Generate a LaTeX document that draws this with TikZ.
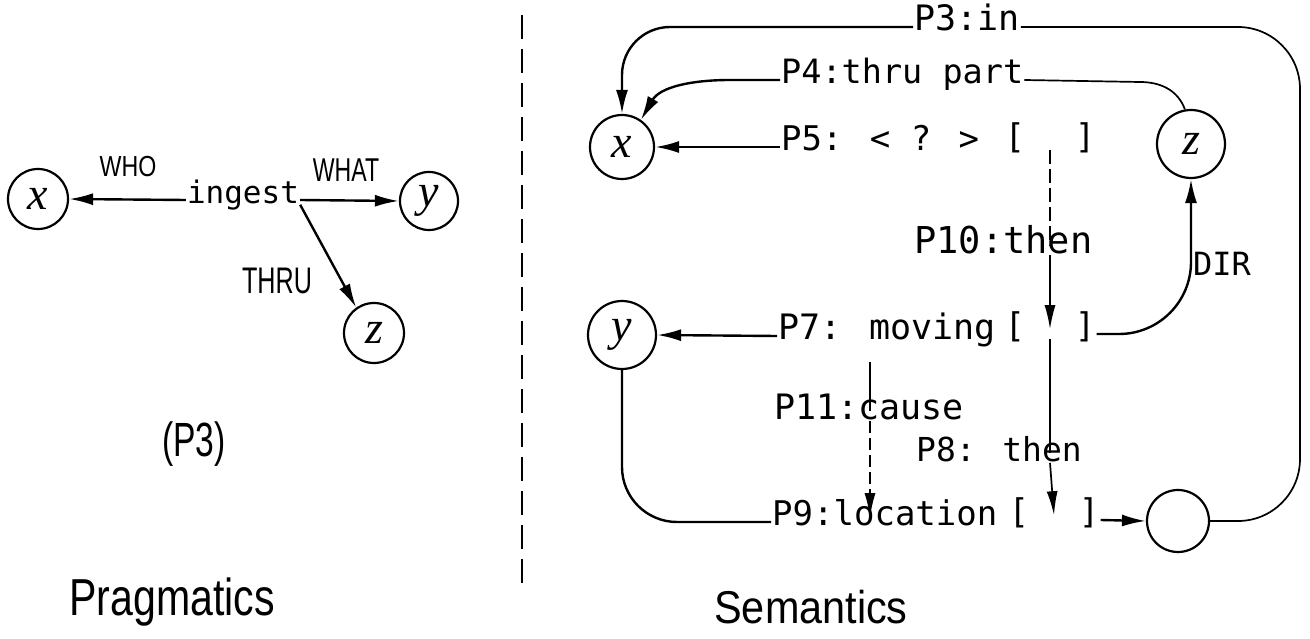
\documentclass[tikz,border=0pt]{standalone}
\usepackage{fontspec}
\setmainfont{Liberation Sans}
\newfontfamily\monof{DejaVu Sans Mono}
\newfontfamily\serifr{Liberation Serif}
\usetikzlibrary{arrows.meta}
\newcommand{\hw}[3]{\fontsize{#1}{#1}\selectfont\scalebox{#2}[1]{#3}}
\begin{document}
\begin{tikzpicture}[x=1pt,y=-1pt,
  circ/.style={circle,draw,line width=2.2pt,minimum size=62pt,inner sep=0pt,font=\serifr\itshape\fontsize{46}{46}\selectfont},
  typ/.style={font=\monof\fontsize{#1}{#1}\selectfont,inner sep=1pt,text height=0.72em,text depth=0pt},
  hand/.style={inner sep=1pt},
  conn/.style={line width=2.4pt},
  thinln/.style={line width=1.7pt},
  arr/.style={line width=2.4pt,-{Latex[length=24pt,width=12pt]}},
  arrS/.style={line width=1.7pt,-{Latex[length=24pt,width=11pt]}},
  brk/.style={line width=1.7pt,dash pattern=on 14pt off 5pt},
]
\useasboundingbox (0,0) rectangle (1310,639);

% divider
\draw[line width=2.4pt,dash pattern=on 24pt off 10pt] (522,15) -- (522,592);

% ---------- Pragmatics ----------
\node[circ,minimum size=60pt] (xL) at (38,199) {x};
\node[typ=31] (ing) at (243,200) {ingest};
\node[circ,minimum size=58pt] (yL) at (429,201) {y};
\node[circ,minimum size=60pt] (zL) at (374,333) {z};
\node[hand] (who) at (128,167) {\hw{29}{0.8}{WHO}};
\node[hand] (what) at (346,170) {\hw{33}{0.7}{WHAT}};
\node[hand] (thru) at (277,281) {\hw{37}{0.68}{THRU}};
\draw[arr] (ing.west) -- (xL.east);
\draw[arr] (ing.east) -- (yL.west);
\draw[arr] (ing.south east) -- (zL.125);
\node[hand] (p3cap) at (194,444) {\hw{48}{0.7}{(P3)}};
\node[hand] (prag) at (172,602) {\hw{52}{0.79}{Pragmatics}};

% ---------- Semantics ----------
\node[circ,minimum size=64pt] (xR) at (622,147) {x};
\node[circ,minimum size=68pt] (zR) at (1191,144) {z};
\node[circ,minimum size=68pt] (yR) at (622,335) {y};
\node[circ,minimum size=62pt] (eR) at (1178,521) {};

\node[typ=35,anchor=west] (p3) at (913,27) {P3:in};
\node[typ=33.5,anchor=west] (p4) at (780,80) {P4:thru part};
\node[typ=34,anchor=west] (p5) at (780,147) {P5: < ? >};
\node[typ=34] (p5b) at (1050,145) {[\hspace{50pt}]};
\node[typ=37,anchor=west] (p10) at (913,250) {P10:then};
\node[typ=35,anchor=west] (p7) at (777,336) {P7: moving};
\node[typ=34] (p7b) at (1050,334) {[\hspace{50pt}]};
\node[typ=32] (dir) at (1222,272) {DIR};
\node[typ=35,anchor=west] (p11) at (773,416) {P11:cause};
\node[typ=33,anchor=west] (p8) at (915,458) {P8: then};
\node[typ=34,anchor=west] (p9) at (771,522) {P9:location};
\node[typ=34] (p9b) at (1054,520) {[\hspace{50pt}]};
\node[hand] (sem) at (811,607) {\hw{46}{0.9}{Semantics}};

\coordinate (rc1) at (1300,27);
\coordinate (rc2) at (1300,521);
\coordinate (p4a) at (730,80);
\coordinate (p4b) at (1140,82);
\coordinate (c11) at (870,362);

% P3
\draw[arr,rounded corners=48pt] (p3.west) -| (xR.north);
\draw[thinln,rounded corners=62pt] (p3.east) -- (rc1) -- (rc2) -- (eR.east);
% P4
\draw[arr] (p4.west) -- (p4a) to[out=180,in=60] (xR.55);
\draw[thinln] (p4.east) -- (p4b) to[out=0,in=110] (zR.100);
% P5
\draw[arr] (p5.west) -- (xR.east);
% P10
\draw[brk] (p5b.south) -- (p10.north -| p5b.south);
\draw[arrS] (p10.south -| p5b.south) -- (p7b.north);
% P7
\draw[arr] (p7.west) -- (yR.east);
\draw[arr,rounded corners=72pt] (p7b.east) -| (zR.south);
% P8
\draw[thinln] (p7b.south) -- (p8.north -| p7b.south);
\draw[arrS] (p8.south -| p7b.south) -- (p9b.north);
% P11
\draw[thinln] (c11) -- (p11.north -| c11);
\draw[arrS,dash pattern=on 12pt off 5pt] (p11.south -| c11) -- (p9.north -| c11);
% P9
\draw[conn,rounded corners=55pt] (yR.south) |- (p9.west);
\draw[arr] (p9b.east) -- (eR.west);
\end{tikzpicture}
\end{document}
